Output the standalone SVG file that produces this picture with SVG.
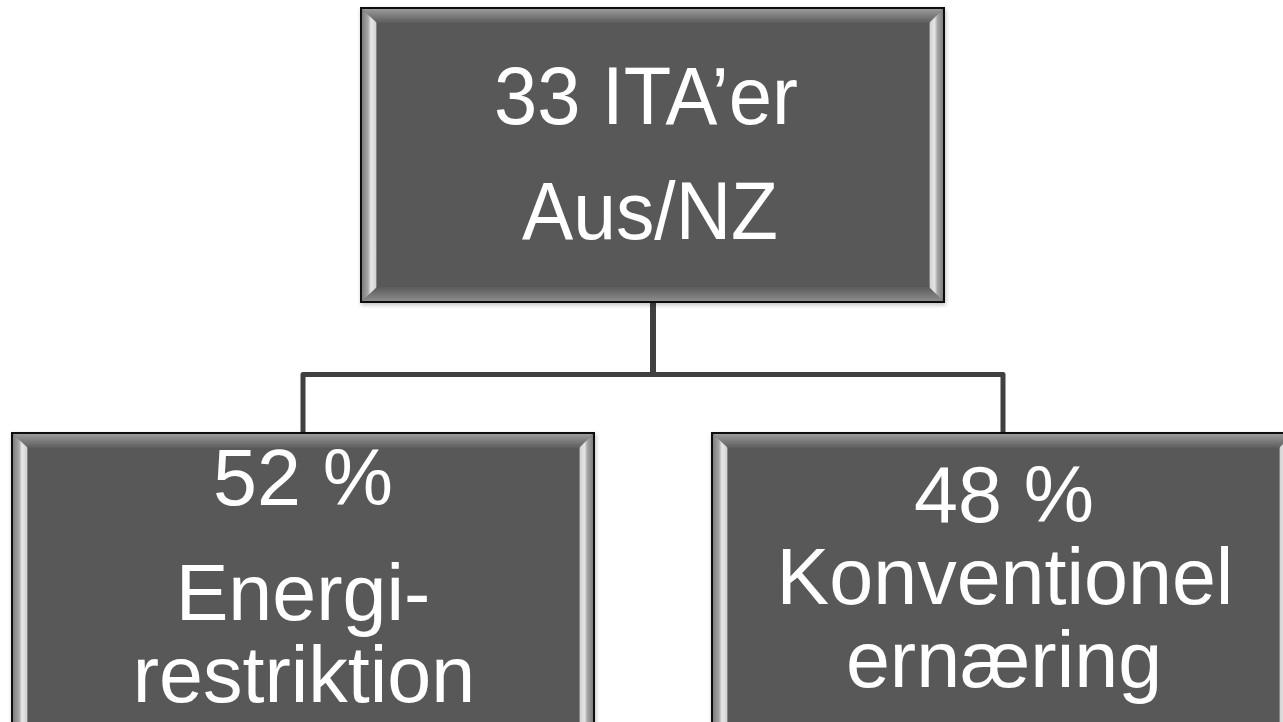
<svg xmlns="http://www.w3.org/2000/svg" width="1283" height="722" viewBox="0 0 1283 722">
  <defs>
    <linearGradient id="bevTop" x1="0" y1="0" x2="0" y2="1">
      <stop offset="0" stop-color="#9a9a9a"/>
      <stop offset="1" stop-color="#5c5c5c"/>
    </linearGradient>
    <linearGradient id="bevBottom" x1="0" y1="0" x2="0" y2="1">
      <stop offset="0" stop-color="#5a5a5a"/>
      <stop offset="1" stop-color="#8c8c8c"/>
    </linearGradient>
    <linearGradient id="bevLeft" x1="0" y1="0" x2="1" y2="0">
      <stop offset="0" stop-color="#7e7e7e"/>
      <stop offset="0.4" stop-color="#a6a6a6"/>
      <stop offset="0.6" stop-color="#e8e8e8"/>
      <stop offset="0.9" stop-color="#d4d4d4"/>
      <stop offset="1" stop-color="#5c5c5c"/>
    </linearGradient>
    <linearGradient id="bevRight" x1="0" y1="0" x2="1" y2="0">
      <stop offset="0" stop-color="#5c5c5c"/>
      <stop offset="0.1" stop-color="#d4d4d4"/>
      <stop offset="0.4" stop-color="#e4e4e4"/>
      <stop offset="0.6" stop-color="#a6a6a6"/>
      <stop offset="1" stop-color="#7e7e7e"/>
    </linearGradient>
    <filter id="shadow" x="-5%" y="-5%" width="110%" height="110%">
      <feGaussianBlur in="SourceAlpha" stdDeviation="2"/>
      <feOffset dx="1" dy="2"/>
      <feComponentTransfer><feFuncA type="linear" slope="0.25"/></feComponentTransfer>
      <feMerge><feMergeNode/><feMergeNode in="SourceGraphic"/></feMerge>
    </filter>
  </defs>
  <style>
    .face { fill: #595959; stroke: #111; stroke-width: 2; }
    .bt { fill: url(#bevTop); }
    .bb { fill: url(#bevBottom); }
    .bl { fill: url(#bevLeft); }
    .br { fill: url(#bevRight); }
    .lbl { font-family: "Liberation Sans", Arial, sans-serif; fill: #ffffff; text-anchor: middle; }
    .big { font-size: 82px; }
    .mid { font-size: 79px; }
    .conn { fill: none; stroke: #404040; stroke-width: 5; stroke-linejoin: round; }
  </style>

  <rect width="1283" height="722" fill="#ffffff"/>

  <!-- connectors -->
  <g id="connectors">
    <path class="conn" d="M653,302 V374.5" style="stroke-width:6"/>
    <path class="conn" d="M303,433 V374.5 H1003 V433"/>
  </g>

  <!-- root node -->
  <g id="node-root" filter="url(#shadow)">
    <rect class="face" x="361" y="8" width="583" height="294"/>
    <polygon class="bt" points="362,9 943,9 929,23 377,23"/>
    <polygon class="bb" points="362,301 943,301 929,287 377,287"/>
    <polygon class="bl" points="362,9 377,23 377,287 362,301"/>
    <polygon class="br" points="943,9 929,23 929,287 943,301"/>
    <text class="lbl big" x="646" y="124" textLength="304" lengthAdjust="spacingAndGlyphs">33 ITA’er</text>
    <text class="lbl big" x="650" y="239" textLength="256" lengthAdjust="spacingAndGlyphs">Aus/NZ</text>
  </g>

  <!-- left child -->
  <g id="node-energi" filter="url(#shadow)">
    <rect class="face" x="12" y="433" width="582" height="320"/>
    <polygon class="bt" points="13,434 593,434 579,448 28,448"/>
    <polygon class="bl" points="13,434 28,448 28,752 13,752"/>
    <polygon class="br" points="593,434 579,448 579,752 593,752"/>
    <text class="lbl mid" x="303" y="505">52 %</text>
    <text class="lbl mid" x="303" y="620">Energi-</text>
    <text class="lbl mid" x="304" y="702">restriktion</text>
  </g>

  <!-- right child -->
  <g id="node-konventionel" filter="url(#shadow)">
    <rect class="face" x="712" y="433" width="582" height="320"/>
    <polygon class="bt" points="713,434 1293,434 1279,448 728,448"/>
    <polygon class="bl" points="713,434 728,448 728,752 713,752"/>
    <polygon class="br" points="1293,434 1279,448 1279,752 1293,752"/>
    <text class="lbl mid" x="1004" y="522">48 %</text>
    <text class="lbl mid" x="1005" y="604">Konventionel</text>
    <text class="lbl mid" x="1004" y="687">ernæring</text>
  </g>
</svg>
